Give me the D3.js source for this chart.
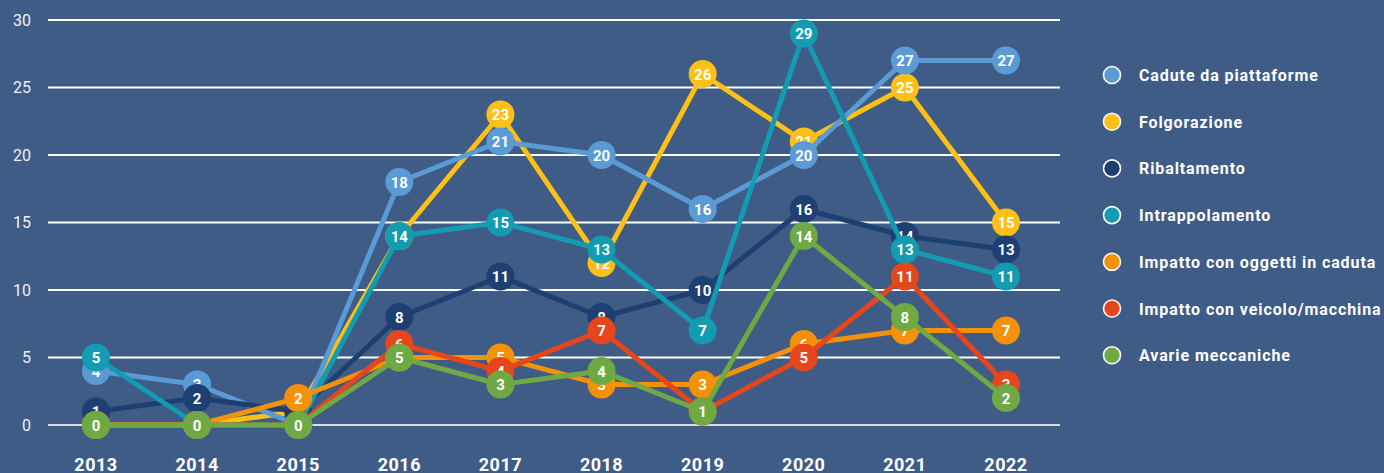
<!DOCTYPE html>
<html>
<head>
<meta charset="utf-8">
<script src="https://cdn.jsdelivr.net/npm/d3@7"></script>
<style>
  html, body { margin: 0; padding: 0; background: #3f5c87; }
  svg { display: block; font-family: Roboto, "DejaVu Sans", sans-serif; }
</style>
</head>
<body>
<svg id="chart" width="1384" height="473"></svg>
<script>
var years = [2013, 2014, 2015, 2016, 2017, 2018, 2019, 2020, 2021, 2022]
var yTicks = [0, 5, 10, 15, 20, 25, 30]

var seriesNames = ['Cadute da piattaforme', 'Folgorazione', 'Ribaltamento', 'Intrappolamento',
  'Impatto con oggetti in caduta', 'Impatto con veicolo/macchina', 'Avarie meccaniche']
var seriesColors = ['#5b9bd5', '#fdc015', '#1e3f72', '#129bb1', '#f39208', '#e5461b', '#6ea943']

var cadute = [4, 3, 0, 18, 21, 20, 16, 20, 27, 27]
var folgorazione = [0, 0, 1, 14, 23, 12, 26, 21, 25, 15]
var ribaltamento = [1, 2, 1, 8, 11, 8, 10, 16, 14, 13]
var intrappolamento = [5, 0, 0, 14, 15, 13, 7, 29, 13, 11]
var impattoOggetti = [0, 0, 2, 5, 5, 3, 3, 6, 7, 7]
var impattoVeicolo = [0, 0, 0, 6, 4, 7, 1, 5, 11, 3]
var avarie = [0, 0, 0, 5, 3, 4, 1, 14, 8, 2]

var seriesValues = [cadute, folgorazione, ribaltamento, intrappolamento, impattoOggetti, impattoVeicolo, avarie]
var drawOrder = [1, 0, 2, 3, 4, 5, 6] // folgorazione under cadute

var svg = d3.select('#chart')

var x = d3.scalePoint().domain(years).range([96, 1006])
var y = d3.scaleLinear().domain([0, 30]).range([425, 20])

// grid + y labels
var grid = svg.append('g')
grid.selectAll('line').data(yTicks).join('line')
  .attr('x1', 48).attr('x2', 1060)
  .attr('y1', d => y(d)).attr('y2', d => y(d))
  .attr('stroke', d => d === 0 ? '#d9dde3' : '#ffffff')
  .attr('stroke-width', 1.8)
grid.selectAll('text').data(yTicks).join('text')
  .attr('x', 31).attr('y', d => y(d) + 5.5)
  .attr('text-anchor', 'end')
  .attr('fill', '#eef1f5')
  .attr('font-size', 16)
  .text(d => d)

// x labels
svg.append('g').selectAll('text').data(years).join('text')
  .attr('x', d => x(d)).attr('y', 471)
  .attr('text-anchor', 'middle')
  .attr('fill', '#ffffff')
  .attr('font-size', 18)
  .attr('font-weight', 'bold')
  .attr('letter-spacing', 0.5)
  .text(d => d)

var line = d3.line()
  .x((d, i) => x(years[i]))
  .y(d => y(d))

var series = seriesValues.map((vals, i) => ({name: seriesNames[i], color: seriesColors[i], values: vals}))

drawOrder.forEach(k => {
  var s = series[k]
  var g = svg.append('g')
  g.append('path')
    .attr('d', line(s.values))
    .attr('fill', 'none')
    .attr('stroke', s.color)
    .attr('stroke-width', 5)
    .attr('stroke-linejoin', 'round')
  var pts = g.selectAll('g.pt').data(s.values).join('g')
    .attr('transform', (d, i) => 'translate(' + x(years[i]) + ',' + y(d) + ')')
  pts.append('circle').attr('r', 14).attr('fill', s.color)
  pts.append('text')
    .attr('y', 5.5)
    .attr('text-anchor', 'middle')
    .attr('fill', '#ffffff')
    .attr('font-size', 15)
    .attr('font-weight', 'bold')
    .text(d => d)
})

// legend
var legend = svg.append('g').selectAll('g').data(series).join('g')
  .attr('transform', (d, i) => 'translate(1112,' + (75 + i * 46.7) + ')')
legend.append('circle').attr('r', 8.5).attr('fill', d => d.color)
  .attr('stroke', '#ffffff').attr('stroke-width', 1.6)
legend.append('text')
  .attr('x', 27).attr('y', 6)
  .attr('fill', '#ffffff')
  .attr('font-size', 16)
  .attr('font-weight', 'bold')
  .attr('letter-spacing', 0.9)
  .text(d => d.name)
</script>
</body>
</html>
